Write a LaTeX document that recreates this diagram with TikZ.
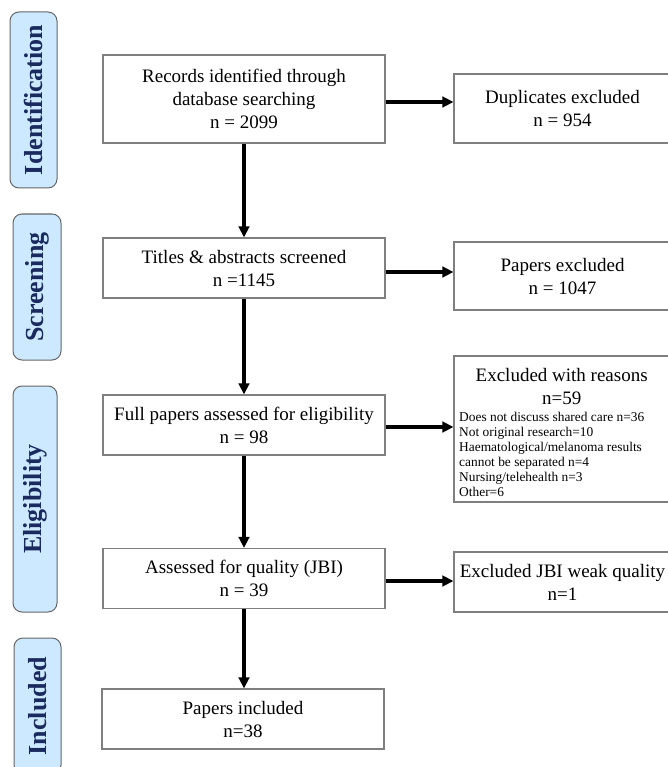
\documentclass[tikz,border=0pt]{standalone}
\usepackage{fontspec}
\setmainfont{Liberation Serif}
\usetikzlibrary{arrows.meta}
\definecolor{phasefill}{HTML}{CCE9FF}
\definecolor{phasetext}{HTML}{1B2A5E}
\definecolor{boxline}{HTML}{7F7F7F}
\tikzset{
  mainbox/.style={draw=boxline, line width=1.1pt, fill=white, minimum width=282pt,
    minimum height=60pt, align=center, inner sep=2pt, font=\fontsize{19}{23}\selectfont},
  sidebox/.style={mainbox, minimum width=217pt},
  phasebox/.style={draw=boxline!80!black, line width=1pt, fill=phasefill, rounded corners=9pt,
    rotate=90, font=\fontsize{26}{30}\selectfont\bfseries, text=phasetext, inner sep=0pt},
  flow/.style={line width=3.6pt, -{Triangle[length=11pt,width=10.5pt]}},
}
\begin{document}
\begin{tikzpicture}[x=1pt,y=-1pt]
\useasboundingbox (0,0) rectangle (667,767);
% phase labels
\node[phasebox, minimum width=176pt, minimum height=47pt] (pid) at (33.5,100) {Identification};
\node[phasebox, minimum width=146pt, minimum height=48pt] (psc) at (37,287) {Screening};
\node[phasebox, minimum width=226pt, minimum height=44pt] (pel) at (35,499) {Eligibility};
\node[phasebox, minimum width=136pt, minimum height=47pt] (pin) at (37.5,706) {Included};
% main column
\node[mainbox, minimum height=88pt] (rec) at (244,99) {Records identified through\\database searching\\n = 2099};
\node[mainbox] (tit) at (244,268) {Titles \& abstracts screened\\n =1145};
\node[mainbox] (full) at (244,425) {Full papers assessed for eligibility\\n = 98};
\node[mainbox] (qual) at (244,578.5) {Assessed for quality (JBI)\\n = 39};
\node[mainbox] (inc) at (243,719) {Papers included\\n=38};
% side column
\node[sidebox, minimum height=69pt] (dup) at (562.5,108.5) {Duplicates excluded\\n = 954};
\node[sidebox, minimum height=68pt] (pex) at (562.5,276) {Papers excluded\\n = 1047};
\node[sidebox, minimum height=146pt, inner sep=0pt] (rea) at (562.5,429) {};
\node[anchor=north west, inner sep=0pt, align=left] (reatext) at (459,368)
  {\parbox{205pt}{\centering\fontsize{19}{23}\selectfont Excluded with reasons\\ n=59\par
   \vspace{2pt}\raggedright\fontsize{13.4}{15}\selectfont
   Does not discuss shared care n=36\\
   Not original research=10\\
   Haematological/melanoma results\\
   cannot be separated n=4\\
   Nursing/telehealth n=3\\
   Other=6}};
\node[sidebox] (jbi) at (562.5,582) {Excluded JBI weak quality\\n=1};
% vertical arrows
\draw[flow] (rec.south) -- (tit.north);
\draw[flow] (tit.south) -- (full.north);
\draw[flow] (full.south) -- (qual.north);
\draw[flow] (qual.south) -- (qual.south |- inc.north);
% horizontal arrows
\draw[flow] ([yshift=-3pt]rec.east) -- ([yshift=-3pt]rec.east -| dup.west);
\draw[flow] ([yshift=-4pt]tit.east) -- ([yshift=-4pt]tit.east -| pex.west);
\draw[flow] ([yshift=-2pt]full.east) -- ([yshift=-2pt]full.east -| rea.west);
\draw[flow] ([yshift=-2.5pt]qual.east) -- ([yshift=-2.5pt]qual.east -| jbi.west);
\end{tikzpicture}
\end{document}
